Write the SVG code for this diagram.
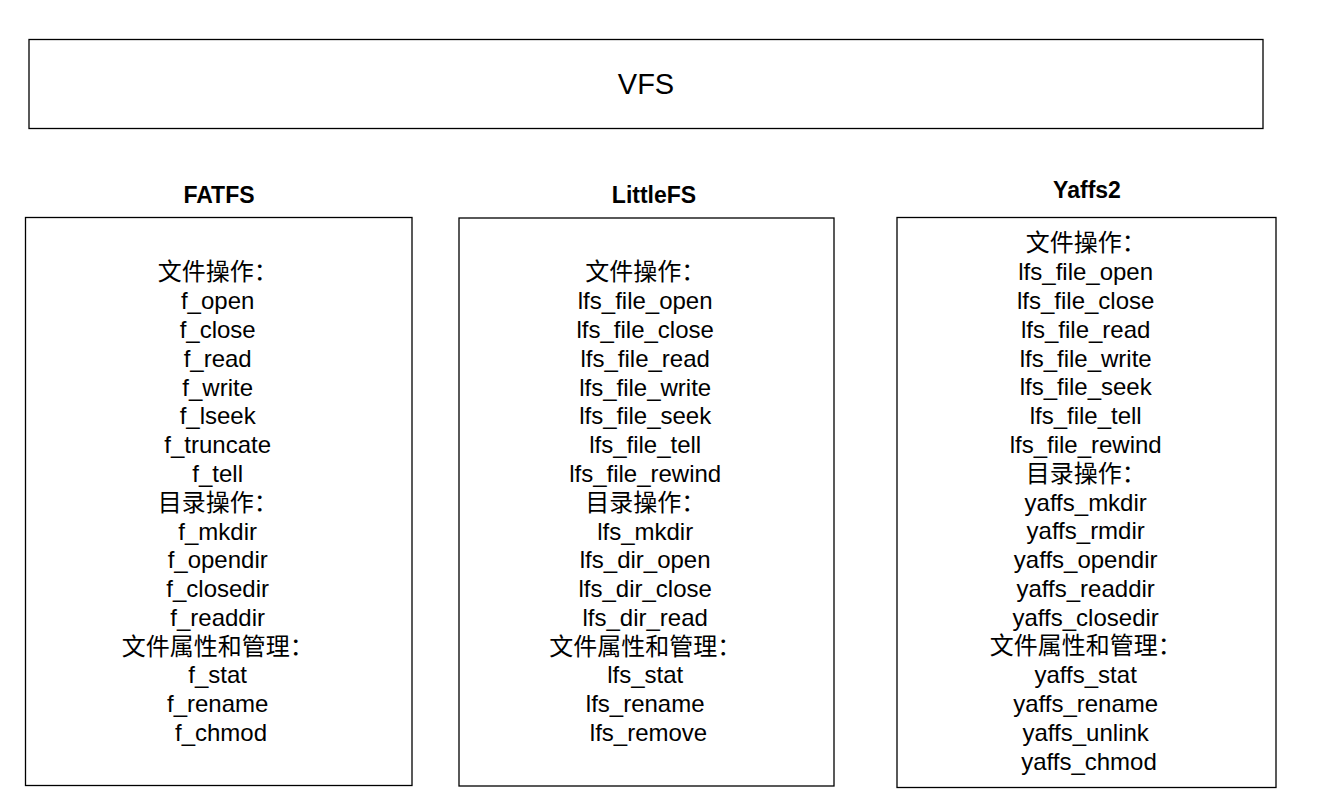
<svg xmlns="http://www.w3.org/2000/svg" width="1338" height="810" viewBox="0 0 1338 810">
  <style>
    .box { fill: #ffffff; stroke: #000000; stroke-width: 1.3; }
    .title { font-family: "Liberation Sans", "Noto Sans CJK SC", sans-serif; font-weight: bold; font-size: 23px; fill: #000; text-anchor: middle; }
    .vfs { font-family: "Liberation Sans", "Noto Sans CJK SC", sans-serif; font-size: 29px; fill: #000; text-anchor: middle; }
    .item { font-family: "Liberation Sans", "Noto Sans CJK SC", sans-serif; font-size: 24px; fill: #000; text-anchor: middle; }
  </style>
  <rect width="1338" height="810" fill="#ffffff"/>

  <!-- top layer -->
  <g id="vfs">
    <rect class="box" x="29" y="39.5" width="1234" height="89"/>
    <text class="vfs" x="646" y="93.5">VFS</text>
  </g>

  <!-- FatFs API list -->
  <g id="fatfs">
    <text class="title" x="219" y="203.3">FATFS</text>
    <rect class="box" x="25.5" y="217.5" width="386.5" height="568"/>
    <text class="item" x="221" y="280.3">
      <tspan x="221" dy="0">文件操作：</tspan>
      <tspan x="221" dy="28.8">f_open</tspan>
      <tspan x="221" dy="28.8">f_close</tspan>
      <tspan x="221" dy="28.8">f_read</tspan>
      <tspan x="221" dy="28.8">f_write</tspan>
      <tspan x="221" dy="28.8">f_lseek</tspan>
      <tspan x="221" dy="28.8">f_truncate</tspan>
      <tspan x="221" dy="28.8">f_tell</tspan>
      <tspan x="221" dy="28.8">目录操作：</tspan>
      <tspan x="221" dy="28.8">f_mkdir</tspan>
      <tspan x="221" dy="28.8">f_opendir</tspan>
      <tspan x="221" dy="28.8">f_closedir</tspan>
      <tspan x="221" dy="28.8">f_readdir</tspan>
      <tspan x="221" dy="28.8">文件属性和管理：</tspan>
      <tspan x="221" dy="28.8">f_stat</tspan>
      <tspan x="221" dy="28.8">f_rename</tspan>
      <tspan x="221" dy="28.8">f_chmod</tspan>
    </text>
  </g>

  <!-- LittleFS API list -->
  <g id="littlefs">
    <text class="title" x="654" y="203.3">LittleFS</text>
    <rect class="box" x="459" y="218" width="375" height="568"/>
    <text class="item" x="648.5" y="280.3">
      <tspan x="648.5" dy="0">文件操作：</tspan>
      <tspan x="648.5" dy="28.8">lfs_file_open</tspan>
      <tspan x="648.5" dy="28.8">lfs_file_close</tspan>
      <tspan x="648.5" dy="28.8">lfs_file_read</tspan>
      <tspan x="648.5" dy="28.8">lfs_file_write</tspan>
      <tspan x="648.5" dy="28.8">lfs_file_seek</tspan>
      <tspan x="648.5" dy="28.8">lfs_file_tell</tspan>
      <tspan x="648.5" dy="28.8">lfs_file_rewind</tspan>
      <tspan x="648.5" dy="28.8">目录操作：</tspan>
      <tspan x="648.5" dy="28.8">lfs_mkdir</tspan>
      <tspan x="648.5" dy="28.8">lfs_dir_open</tspan>
      <tspan x="648.5" dy="28.8">lfs_dir_close</tspan>
      <tspan x="648.5" dy="28.8">lfs_dir_read</tspan>
      <tspan x="648.5" dy="28.8">文件属性和管理：</tspan>
      <tspan x="648.5" dy="28.8">lfs_stat</tspan>
      <tspan x="648.5" dy="28.8">lfs_rename</tspan>
      <tspan x="648.5" dy="28.8">lfs_remove</tspan>
    </text>
  </g>

  <!-- Yaffs2 API list -->
  <g id="yaffs2">
    <text class="title" x="1087" y="197.5">Yaffs2</text>
    <rect class="box" x="897" y="217.5" width="379" height="570"/>
    <text class="item" x="1089" y="251.3">
      <tspan x="1089" dy="0">文件操作：</tspan>
      <tspan x="1089" dy="28.8">lfs_file_open</tspan>
      <tspan x="1089" dy="28.8">lfs_file_close</tspan>
      <tspan x="1089" dy="28.8">lfs_file_read</tspan>
      <tspan x="1089" dy="28.8">lfs_file_write</tspan>
      <tspan x="1089" dy="28.8">lfs_file_seek</tspan>
      <tspan x="1089" dy="28.8">lfs_file_tell</tspan>
      <tspan x="1089" dy="28.8">lfs_file_rewind</tspan>
      <tspan x="1089" dy="28.8">目录操作：</tspan>
      <tspan x="1089" dy="28.8">yaffs_mkdir</tspan>
      <tspan x="1089" dy="28.8">yaffs_rmdir</tspan>
      <tspan x="1089" dy="28.8">yaffs_opendir</tspan>
      <tspan x="1089" dy="28.8">yaffs_readdir</tspan>
      <tspan x="1089" dy="28.8">yaffs_closedir</tspan>
      <tspan x="1089" dy="28.8">文件属性和管理：</tspan>
      <tspan x="1089" dy="28.8">yaffs_stat</tspan>
      <tspan x="1089" dy="28.8">yaffs_rename</tspan>
      <tspan x="1089" dy="28.8">yaffs_unlink</tspan>
      <tspan x="1089" dy="28.8">yaffs_chmod</tspan>
    </text>
  </g>

  <!-- no connectors in this figure -->
  <g id="connectors"/>
</svg>
